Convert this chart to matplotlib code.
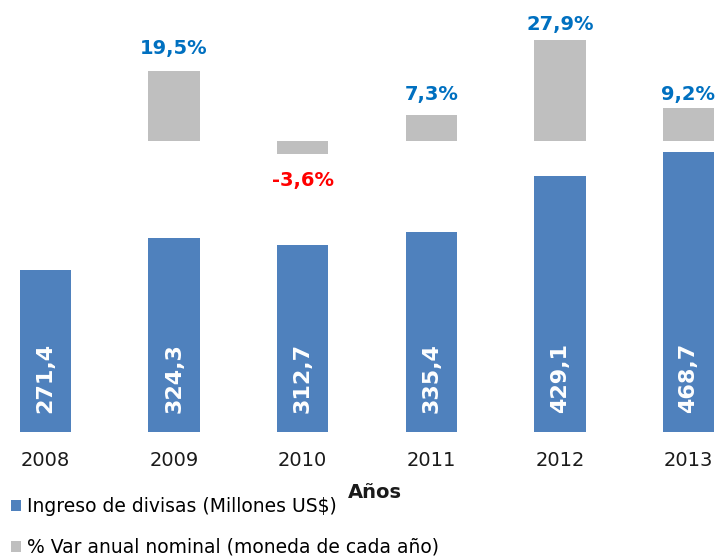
import matplotlib
matplotlib.use("Agg")
import matplotlib.pyplot as plt
import numpy as np

years = ["2008", "2009", "2010", "2011", "2012", "2013"]
ingreso = [271.4, 324.3, 312.7, 335.4, 429.1, 468.7]
var_pct = [None, 19.5, -3.6, 7.3, 27.9, 9.2]
ingreso_labels = ["271,4", "324,3", "312,7", "335,4", "429,1", "468,7"]
var_labels = [None, "19,5%", "-3,6%", "7,3%", "27,9%", "9,2%"]
legend_labels = ["Ingreso de divisas (Millones US$)", "% Var anual nominal (moneda de cada año)"]
xlabel = "Años"

BLUE = "#4F81BD"
GRAY = "#BFBFBF"
LBLUE = "#0070C0"
RED = "#FF0000"

fig = plt.figure(figsize=(7.17, 5.57), dpi=100)
ax = fig.add_axes([0, 125/557, 1, 432/557])
ax2 = ax.twinx()

x = np.arange(len(years))
bw = 0.4
b1 = ax.bar(x, ingreso, width=bw, color=BLUE, zorder=2)
xs2 = [xi for xi, v in zip(x, var_pct) if v is not None]
vs2 = [v for v in var_pct if v is not None]
b2 = ax2.bar(xs2, vs2, width=bw, color=GRAY, zorder=2)

ax.set_xlim(-45.5/128.6, (717-45.5)/128.6)
ax.set_ylim(0, 432/0.597)
ax2.set_ylim(-291/3.61, 141/3.61)

for a in (ax, ax2):
    for s in a.spines.values():
        s.set_visible(False)
    a.set_yticks([])
ax.set_xticks(x)
ax.set_xticklabels(years, fontsize=14, family="DejaVu Sans", color="#1a1a1a")
ax.tick_params(axis="x", length=0, pad=14)

# values inside blue bars
for xi, v, lab in zip(x, ingreso, ingreso_labels):
    ax.annotate(lab, (xi, 0), xytext=(0, 13.5), textcoords="offset points",
                rotation=90, ha="center", va="bottom", color="white",
                fontsize=16, fontweight="bold", family="DejaVu Sans")

# percentage labels (manual offsets as in original)
offsets = [None, 12, -12.5, 10.8, 7.7, 5.5]
for xi, v, lab, off in zip(x, var_pct, var_labels, offsets):
    if v is None:
        continue
    if v >= 0:
        ax2.annotate(lab, (xi, v), xytext=(0, off), textcoords="offset points",
                     ha="center", va="baseline", color=LBLUE,
                     fontsize=14, fontweight="bold", family="DejaVu Sans")
    else:
        ax2.annotate(lab, (xi, v), xytext=(0, off), textcoords="offset points",
                     ha="center", va="top", color=RED,
                     fontsize=14, fontweight="bold", family="DejaVu Sans")

fig.text(375/717, 1 - 492.5/557, xlabel, ha="center", va="center",
         fontsize=14, fontweight="bold", family="DejaVu Sans", color="#1a1a1a")

fig.legend(handles=[b1, b2], labels=legend_labels, loc="upper left",
           bbox_to_anchor=(11/717, 1 - 497.5/557), frameon=False,
           prop={"family": "DejaVu Sans", "size": 13.5}, handlelength=0.53,
           handleheight=0.53, handletextpad=0.32, labelspacing=1.14,
           borderaxespad=0, borderpad=0)

fig.savefig("out.png", dpi=100)
